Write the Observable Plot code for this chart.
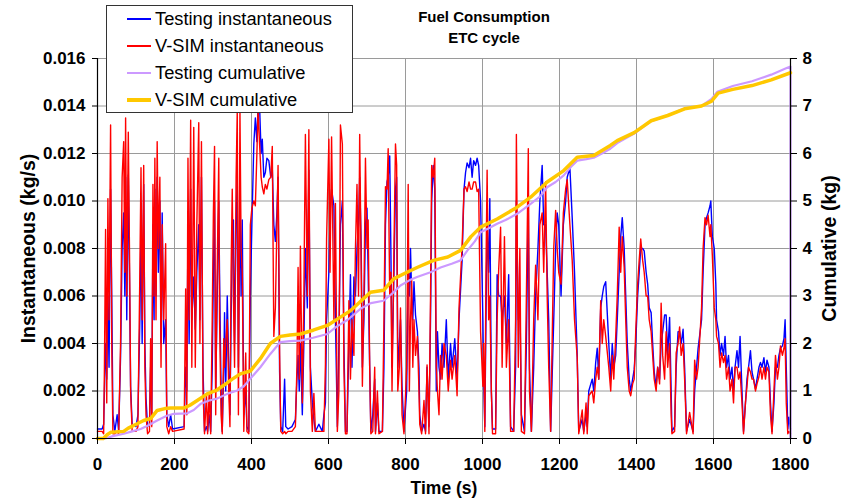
<!DOCTYPE html>
<html><head><meta charset="utf-8">
<script src="https://cdn.jsdelivr.net/npm/d3@7"></script>
<script src="https://cdn.jsdelivr.net/npm/@observablehq/plot@0.6"></script>
<style>
body{margin:0;background:#fff;font-family:"Liberation Sans",Arial,sans-serif;}
#wrap{position:relative;width:844px;height:502px;overflow:hidden;}
#wrap svg{position:absolute;left:0;top:0;}
.title{position:absolute;left:484px;transform:translateX(-50%);font-weight:bold;font-size:15px;white-space:nowrap;color:#000;}
#legend{position:absolute;left:106px;top:5px;width:247px;height:108px;border:1px solid #333;background:#fff;box-sizing:border-box;}
.lrow{position:absolute;left:0;height:0;}
.lline{position:absolute;left:20px;width:24px;}
.ltext{position:absolute;left:48px;font-size:18.3px;white-space:nowrap;transform:translateY(-50%);top:0;color:#000;}
</style></head>
<body><div id="wrap"></div>
<script>
// ---- data ----
const times = [
0,12,16,18,21,24,27,30,34,37,40,45,51,55,60,
64,68,71,73,76,80,83,86,90,100,105,110,113,116,120,
123,126,130,135,138,141,144,147,149,152,155,158,162,165,168,
172,177,180,185,190,195,225,229,232,235,238,242,245,250,254,
258,263,266,270,274,278,283,286,290,294,298,301,304,307,310,
315,317,321,324,328,330,333,337,341,344,347,350,353,356,360,
363,366,370,373,376,380,385,388,393,397,401,406,410,414,417,
421,425,428,432,436,440,445,450,454,458,462,466,469,473,476,
481,486,489,495,505,514,518,521,524,527,532,536,540,545,549,
553,558,562,566,575,584,588,592,595,601,604,608,614,618,623,
627,631,636,640,644,648,653,657,661,666,670,674,678,681,685,
688,692,696,700,703,707,710,715,720,722,727,731,740,744,748,
752,755,759,762,765,770,774,777,780,784,787,791,796,803,807,
810,813,816,819,822,826,831,835,837,842,848,852,856,861,865,
868,872,876,880,883,887,891,895,900,906,911,917,921,928,934,
939,947,952,956,960,965,969,973,977,982,986,990,995,1001,1003,
1006,1009,1012,1016,1019,1023,1026,1034,1038,1042,1047,1051,1057,1062,1068,
1073,1081,1086,1088,1093,1097,1101,1109,1114,1119,1122,1127,1133,1138,1144,
1149,1155,1159,1164,1168,1172,1177,1185,1190,1194,1198,1204,1210,1216,1220,
1227,1233,1239,1246,1250,1259,1263,1269,1272,1276,1285,1289,1294,1298,1302,
1307,1311,1315,1320,1328,1333,1337,1341,1346,1350,1355,1359,1363,1368,1372,
1376,1381,1385,1390,1394,1398,1403,1407,1411,1416,1420,1425,1429,1433,1438,
1442,1446,1451,1455,1460,1464,1468,1473,1477,1481,1486,1490,1492,1499,1503,
1508,1512,1516,1521,1525,1530,1538,1547,1551,1556,1560,1569,1573,1578,1582,
1586,1591,1593,1597,1602,1606,1608,1613,1617,1621,1626,1630,1634,1639,1643,
1648,1652,1656,1661,1665,1669,1674,1678,1683,1687,1691,1696,1700,1704,1709,
1713,1718,1722,1726,1731,1735,1739,1744,1748,1752,1757,1761,1766,1770,1774,
1779,1783,1786,1789,1793,1796,1800];

// Testing instantaneous (kg/s)
const testingInst = [
0.0004,0.0004,0.0006,0.0020,0.0040,0.0025,0.0060,0.0030,0.0105,0.0060,0.0010,0.0003,0.0010,0.0003,0.0035,
0.0080,0.0095,0.0060,0.0110,0.0050,0.0111,0.0070,0.0022,0.0006,0.0005,0.0010,0.0050,0.0090,0.0040,0.0107,
0.0040,0.0017,0.0005,0.0006,0.0030,0.0010,0.0090,0.0050,0.0105,0.0060,0.0110,0.0070,0.0100,0.0040,0.0095,
0.0040,0.0050,0.0010,0.0005,0.0010,0.0004,0.0005,0.0030,0.0020,0.0090,0.0040,0.0105,0.0050,0.0068,0.0046,
0.0070,0.0090,0.0050,0.0110,0.0030,0.0003,0.0005,0.0003,0.0010,0.0003,0.0030,0.0070,0.0100,0.0020,0.0050,
0.0100,0.0069,0.0020,0.0003,0.0030,0.0053,0.0020,0.0060,0.0030,0.0010,0.0050,0.0080,0.0092,0.0040,0.0090,
0.0110,0.0030,0.0100,0.0060,0.0092,0.0010,0.0020,0.0005,0.0003,0.0060,0.0090,0.0124,0.0135,0.0125,0.0140,
0.0140,0.0120,0.0126,0.0110,0.0112,0.0118,0.0117,0.0110,0.0114,0.0090,0.0083,0.0095,0.0110,0.0028,0.0005,
0.0003,0.0025,0.0005,0.0004,0.0005,0.0008,0.0025,0.0035,0.0020,0.0040,0.0010,0.0040,0.0080,0.0055,0.0113,
0.0030,0.0015,0.0008,0.0003,0.0006,0.0003,0.0010,0.0015,0.0050,0.0070,0.0095,0.0105,0.0098,0.0050,0.0005,
0.0040,0.0090,0.0100,0.0040,0.0003,0.0003,0.0040,0.0069,0.0030,0.0068,0.0060,0.0080,0.0090,0.0110,0.0080,
0.0030,0.0050,0.0090,0.0097,0.0070,0.0030,0.0003,0.0010,0.0025,0.0003,0.0015,0.0003,0.0003,0.0030,0.0090,
0.0108,0.0110,0.0119,0.0080,0.0030,0.0070,0.0105,0.0110,0.0030,0.0040,0.0050,0.0022,0.0003,0.0020,0.0070,
0.0060,0.0080,0.0060,0.0050,0.0066,0.0052,0.0045,0.0030,0.0010,0.0003,0.0006,0.0003,0.0030,0.0005,0.0050,
0.0100,0.0115,0.0105,0.0020,0.0045,0.0030,0.0025,0.0040,0.0030,0.0050,0.0025,0.0040,0.0030,0.0042,0.0025,
0.0050,0.0075,0.0105,0.0112,0.0116,0.0114,0.0118,0.0110,0.0117,0.0115,0.0118,0.0115,0.0100,0.0050,0.0025,
0.0005,0.0050,0.0090,0.0070,0.0101,0.0020,0.0004,0.0004,0.0069,0.0060,0.0060,0.0050,0.0060,0.0040,0.0069,
0.0005,0.0003,0.0030,0.0100,0.0050,0.0060,0.0010,0.0003,0.0040,0.0100,0.0030,0.0003,0.0030,0.0060,0.0080,
0.0100,0.0115,0.0090,0.0090,0.0070,0.0050,0.0003,0.0050,0.0080,0.0095,0.0090,0.0060,0.0090,0.0100,0.0110,
0.0114,0.0093,0.0070,0.0035,0.0003,0.0008,0.0003,0.0010,0.0005,0.0020,0.0025,0.0020,0.0032,0.0038,0.0025,
0.0055,0.0060,0.0064,0.0066,0.0040,0.0025,0.0040,0.0030,0.0035,0.0050,0.0070,0.0085,0.0093,0.0080,0.0060,
0.0040,0.0025,0.0020,0.0025,0.0029,0.0040,0.0060,0.0070,0.0080,0.0080,0.0079,0.0070,0.0065,0.0055,0.0053,
0.0040,0.0028,0.0022,0.0030,0.0025,0.0040,0.0045,0.0052,0.0052,0.0035,0.0051,0.0020,0.0003,0.0005,0.0030,
0.0045,0.0045,0.0040,0.0046,0.0030,0.0003,0.0008,0.0003,0.0020,0.0030,0.0038,0.0050,0.0070,0.0090,0.0093,
0.0095,0.0098,0.0100,0.0085,0.0080,0.0065,0.0050,0.0045,0.0035,0.0040,0.0035,0.0043,0.0030,0.0035,0.0025,
0.0030,0.0020,0.0030,0.0037,0.0030,0.0043,0.0020,0.0003,0.0015,0.0025,0.0030,0.0037,0.0028,0.0025,0.0021,
0.0025,0.0030,0.0032,0.0030,0.0034,0.0028,0.0033,0.0030,0.0015,0.0003,0.0015,0.0030,0.0030,0.0035,0.0038,
0.0039,0.0042,0.0050,0.0030,0.0004,0.0009,0.0004];

// V-SIM instantaneous (kg/s)
const vsimInst = [
0.0003,0.0003,0.0002,0.0030,0.0088,0.0015,0.0101,0.0050,0.0132,0.0040,0.0002,0.0002,0.0003,0.0002,0.0041,
0.0110,0.0125,0.0070,0.0135,0.0060,0.0129,0.0080,0.0020,0.0003,0.0003,0.0005,0.0070,0.0114,0.0050,0.0115,
0.0030,0.0010,0.0002,0.0003,0.0042,0.0005,0.0107,0.0060,0.0118,0.0050,0.0125,0.0080,0.0110,0.0030,0.0090,
0.0050,0.0082,0.0005,0.0002,0.0005,0.0003,0.0004,0.0063,0.0010,0.0118,0.0050,0.0134,0.0030,0.0131,0.0030,
0.0090,0.0133,0.0040,0.0125,0.0020,0.0002,0.0019,0.0002,0.0019,0.0002,0.0050,0.0095,0.0123,0.0010,0.0060,
0.0118,0.0050,0.0010,0.0002,0.0042,0.0030,0.0040,0.0050,0.0020,0.0005,0.0070,0.0105,0.0060,0.0030,0.0110,
0.0138,0.0010,0.0138,0.0080,0.0070,0.0003,0.0036,0.0003,0.0002,0.0090,0.0097,0.0100,0.0098,0.0120,0.0139,
0.0124,0.0110,0.0106,0.0103,0.0107,0.0105,0.0109,0.0110,0.0123,0.0043,0.0055,0.0090,0.0115,0.0036,0.0003,
0.0002,0.0003,0.0002,0.0003,0.0003,0.0005,0.0030,0.0072,0.0025,0.0081,0.0015,0.0060,0.0128,0.0060,0.0130,
0.0020,0.0003,0.0019,0.0003,0.0003,0.0003,0.0003,0.0031,0.0084,0.0126,0.0070,0.0127,0.0050,0.0099,0.0003,
0.0020,0.0132,0.0124,0.0030,0.0002,0.0002,0.0058,0.0025,0.0050,0.0035,0.0080,0.0107,0.0060,0.0128,0.0070,
0.0022,0.0060,0.0118,0.0080,0.0092,0.0030,0.0002,0.0003,0.0030,0.0002,0.0020,0.0002,0.0003,0.0050,0.0106,
0.0105,0.0122,0.0060,0.0070,0.0020,0.0080,0.0124,0.0115,0.0020,0.0030,0.0055,0.0010,0.0002,0.0030,0.0107,
0.0020,0.0050,0.0067,0.0030,0.0050,0.0035,0.0043,0.0020,0.0006,0.0002,0.0016,0.0002,0.0031,0.0002,0.0060,
0.0115,0.0110,0.0118,0.0030,0.0020,0.0010,0.0035,0.0025,0.0040,0.0035,0.0020,0.0033,0.0025,0.0035,0.0018,
0.0055,0.0081,0.0105,0.0106,0.0104,0.0108,0.0105,0.0105,0.0108,0.0108,0.0104,0.0105,0.0045,0.0022,0.0040,
0.0003,0.0070,0.0113,0.0050,0.0060,0.0020,0.0002,0.0002,0.0050,0.0071,0.0089,0.0030,0.0085,0.0030,0.0050,
0.0003,0.0003,0.0050,0.0128,0.0030,0.0080,0.0003,0.0002,0.0060,0.0122,0.0020,0.0003,0.0050,0.0073,0.0050,
0.0090,0.0095,0.0070,0.0108,0.0060,0.0030,0.0003,0.0080,0.0096,0.0080,0.0070,0.0065,0.0095,0.0105,0.0109,
0.0090,0.0075,0.0050,0.0034,0.0002,0.0012,0.0002,0.0015,0.0002,0.0018,0.0020,0.0015,0.0025,0.0030,0.0025,
0.0058,0.0040,0.0050,0.0043,0.0030,0.0020,0.0035,0.0025,0.0043,0.0060,0.0089,0.0070,0.0085,0.0072,0.0050,
0.0030,0.0020,0.0018,0.0023,0.0025,0.0045,0.0065,0.0075,0.0084,0.0075,0.0070,0.0060,0.0060,0.0050,0.0045,
0.0035,0.0025,0.0020,0.0030,0.0023,0.0057,0.0035,0.0025,0.0045,0.0030,0.0040,0.0010,0.0002,0.0003,0.0036,
0.0040,0.0047,0.0035,0.0040,0.0025,0.0002,0.0011,0.0002,0.0033,0.0025,0.0030,0.0055,0.0080,0.0093,0.0090,
0.0094,0.0085,0.0090,0.0077,0.0055,0.0050,0.0043,0.0040,0.0030,0.0036,0.0032,0.0035,0.0025,0.0030,0.0020,
0.0025,0.0015,0.0030,0.0030,0.0025,0.0028,0.0015,0.0002,0.0015,0.0022,0.0030,0.0028,0.0025,0.0025,0.0020,
0.0023,0.0026,0.0030,0.0025,0.0030,0.0025,0.0030,0.0028,0.0010,0.0002,0.0020,0.0035,0.0025,0.0030,0.0039,
0.0035,0.0038,0.0042,0.0015,0.0002,0.0003,0.0002];

// Testing cumulative (kg)
const testingCumTimes = [0,20,40,68,90,112,130,155,180,198,233,250,268,290,311,340,363,380,397,423,449,475,500,527,560,597,620,650,683,710,743,765,787,810,830,865,891,920,943,960,980,995,1015,1038,1060,1090,1125,1150,1168,1190,1211,1230,1246,1270,1289,1310,1332,1350,1394,1438,1481,1525,1569,1595,1610,1650,1700,1750,1790,1800,1800];
const testingCum = [0,0,0.05,0.1,0.15,0.2,0.27,0.38,0.48,0.52,0.53,0.6,0.73,0.8,0.84,0.95,1.01,1.1,1.26,1.5,1.78,2.03,2.05,2.06,2.12,2.2,2.35,2.5,2.73,2.85,2.9,3.05,3.22,3.33,3.4,3.5,3.6,3.68,3.75,3.95,4.15,4.34,4.42,4.52,4.6,4.73,4.94,5.1,5.29,5.4,5.54,5.72,5.85,5.88,5.91,6.0,6.1,6.22,6.42,6.68,6.8,6.95,7.0,7.15,7.3,7.42,7.52,7.66,7.8,7.83,0];

// V-SIM cumulative (kg)
const vsimCumTimes = [0,15,25,34,68,80,103,120,138,155,175,190,224,240,259,285,310,328,350,371,397,423,449,475,500,527,560,597,630,657,685,709,743,769,804,830,873,910,943,970,995,1038,1090,1125,1168,1211,1246,1289,1332,1350,1394,1438,1481,1525,1569,1595,1612,1650,1700,1750,1800];
const vsimCum = [0,0,0.08,0.13,0.15,0.22,0.31,0.38,0.42,0.59,0.63,0.64,0.64,0.7,0.8,0.94,1.02,1.12,1.25,1.36,1.42,1.68,2.0,2.15,2.18,2.2,2.28,2.38,2.55,2.69,2.9,3.08,3.12,3.36,3.5,3.6,3.75,3.82,3.96,4.25,4.45,4.62,4.87,5.08,5.4,5.64,5.92,5.96,6.17,6.27,6.44,6.69,6.8,6.94,7.0,7.1,7.27,7.35,7.43,7.55,7.7];

const xTicks = [0,200,400,600,800,1000,1200,1400,1600,1800];
const yTicks = [0,0.002,0.004,0.006,0.008,0.010,0.012,0.014,0.016];
const cumTicks = [0,1,2,3,4,5,6,7,8];

const titleLines = ["Fuel Consumption", "ETC cycle"];
const legendItems = [
  {label:"Testing instantaneous", color:"#0000FF", w:1.5},
  {label:"V-SIM instantaneous", color:"#FF0000", w:1.5},
  {label:"Testing cumulative", color:"#CC99FF", w:2.5},
  {label:"V-SIM cumulative", color:"#FFC800", w:4}
];

// ---- build ----
if (times.length !== testingInst.length || times.length !== vsimInst.length) console.warn("length mismatch", times.length, testingInst.length, vsimInst.length);
const k = 0.016 / 8; // cumulative -> instantaneous axis
const inst = times.map((t,i)=>({t, test: testingInst[i], sim: vsimInst[i]}));
const cumT = testingCumTimes.map((t,i)=>({t, c: testingCum[i]}));
const cumS = vsimCumTimes.map((t,i)=>({t, c: vsimCum[i]}));

const chart = Plot.plot({
  width: 844, height: 502,
  marginLeft: 97, marginRight: 54, marginTop: 58, marginBottom: 64,
  x: {domain: [0, 1800]},
  y: {domain: [0, 0.016]},
  style: {fontFamily: "'Liberation Sans', Arial, sans-serif", fontWeight: "bold", color: "#000", background: "#fff"},
  marks: [
    Plot.gridY(yTicks, {stroke: "#9a9a9a", strokeOpacity: 1, strokeWidth: 1}),
    Plot.gridX(xTicks, {stroke: "#9a9a9a", strokeOpacity: 1, strokeWidth: 1}),
    Plot.line(inst, {x: "t", y: "test", stroke: "#0000FF", strokeWidth: 1.4}),
    Plot.line(inst, {x: "t", y: "sim", stroke: "#FF0000", strokeWidth: 1.4}),
    Plot.line(cumT, {x: "t", y: d => d.c * k, stroke: "#CC99FF", strokeWidth: 2.2}),
    Plot.line(cumS, {x: "t", y: d => d.c * k, stroke: "#FFC800", strokeWidth: 3.5}),
    Plot.ruleY([0], {stroke: "#000", strokeWidth: 1.2}),
    Plot.ruleX([0], {stroke: "#000", strokeWidth: 1.2}),
    Plot.ruleX([1800], {stroke: "#000", strokeWidth: 1.2}),
    Plot.axisX(xTicks, {anchor: "bottom", tickSize: 6, tickPadding: 13, fontSize: 17, fontWeight: "bold", label: null, tickFormat: d => String(d)}),
    Plot.axisY(yTicks, {anchor: "left", tickSize: 5, tickPadding: 7, fontSize: 17, fontWeight: "bold", label: null, tickFormat: d => d.toFixed(3)}),
    Plot.axisY(cumTicks.map(c => c * k), {anchor: "right", tickSize: 6, tickPadding: 6, fontSize: 17, fontWeight: "bold", label: null, tickFormat: d => String(Math.round(d / k))}),
    Plot.text(["Time (s)"], {frameAnchor: "bottom", dy: 55, fontSize: 17.5, fontWeight: "bold", fill: "#000"}),
    Plot.text(["Instantaneous (kg/s)"], {frameAnchor: "left", textAnchor: "middle", dx: -69, rotate: -90, fontSize: 19.5, fontWeight: "bold", fill: "#000"}),
    Plot.text(["Cumulative (kg)"], {frameAnchor: "right", textAnchor: "middle", dx: 39, rotate: -90, fontSize: 19.5, fontWeight: "bold", fill: "#000"})
  ]
});

const wrap = document.getElementById("wrap");
wrap.appendChild(chart);

titleLines.forEach((s, i) => {
  const d = document.createElement("div");
  d.className = "title";
  d.style.top = (8 + i * 21) + "px";
  d.textContent = s;
  wrap.appendChild(d);
});

const leg = document.createElement("div");
leg.id = "legend";
legendItems.forEach((it, i) => {
  const row = document.createElement("div");
  row.className = "lrow";
  row.style.top = (13 + i * 27) + "px";
  const ln = document.createElement("div");
  ln.className = "lline";
  ln.style.height = it.w + "px";
  ln.style.top = (-it.w / 2) + "px";
  ln.style.background = it.color;
  const tx = document.createElement("div");
  tx.className = "ltext";
  tx.textContent = it.label;
  row.appendChild(ln); row.appendChild(tx);
  leg.appendChild(row);
});
wrap.appendChild(leg);
</script>
</body></html>
